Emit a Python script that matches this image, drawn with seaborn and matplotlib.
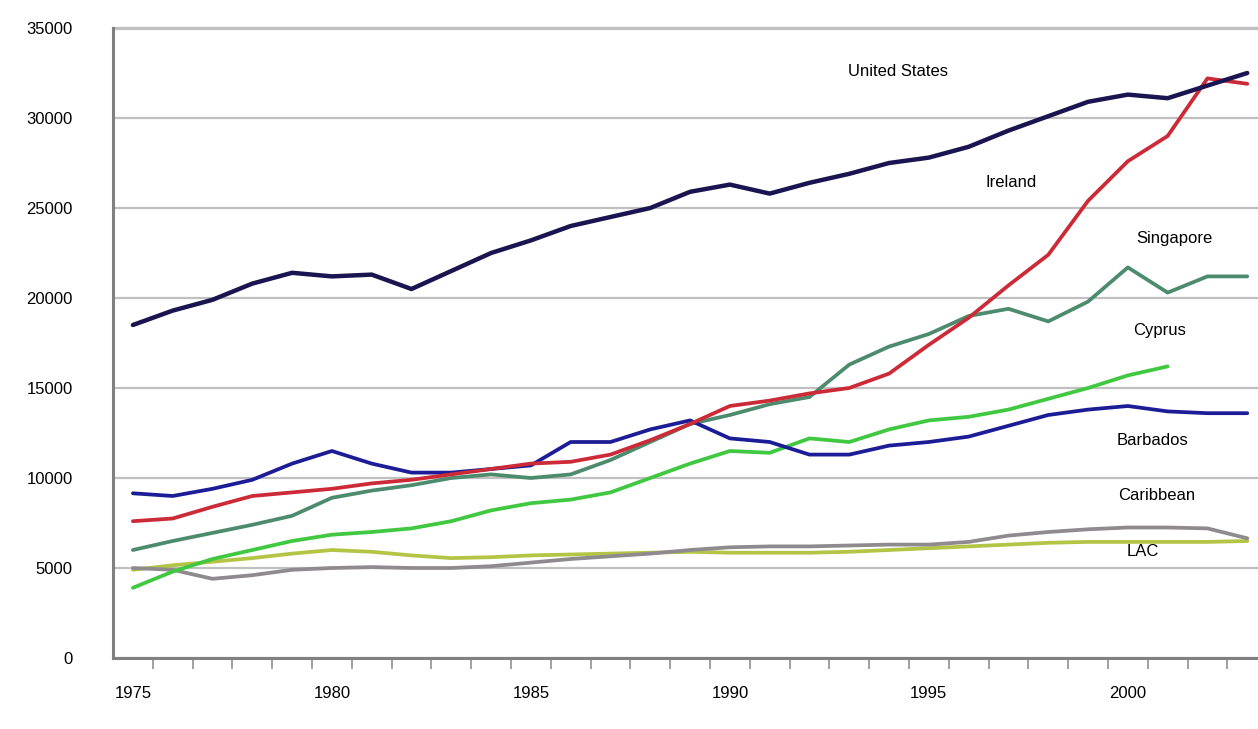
import numpy as np
import pandas as pd
import matplotlib
matplotlib.use("Agg")
import matplotlib.pyplot as plt
import seaborn as sns

# GDP per capita, 1975-2003
years = list(range(1975, 2004))

united_states = [18500, 19300, 19900, 20800, 21400, 21200, 21300, 20500, 21500, 22500,
                 23200, 24000, 24500, 25000, 25900, 26300, 25800, 26400, 26900, 27500,
                 27800, 28400, 29300, 30100, 30900, 31300, 31100, 31800, 32500]
ireland = [7600, 7750, 8400, 9000, 9200, 9400, 9700, 9900, 10200, 10500,
           10800, 10900, 11300, 12100, 13000, 14000, 14300, 14700, 15000, 15800,
           17400, 18900, 20700, 22400, 25400, 27600, 29000, 32200, 31900]
singapore = [6000, 6500, 6950, 7400, 7900, 8900, 9300, 9600, 10000, 10200,
             10000, 10200, 11000, 12000, 13000, 13500, 14100, 14500, 16300, 17300,
             18000, 19000, 19400, 18700, 19800, 21700, 20300, 21200, 21200]
cyprus = [3900, 4800, 5500, 6000, 6500, 6850, 7000, 7200, 7600, 8200,
          8600, 8800, 9200, 10000, 10800, 11500, 11400, 12200, 12000, 12700,
          13200, 13400, 13800, 14400, 15000, 15700, 16200, np.nan, np.nan]
barbados = [9150, 9000, 9400, 9900, 10800, 11500, 10800, 10300, 10300, 10500,
            10700, 12000, 12000, 12700, 13200, 12200, 12000, 11300, 11300, 11800,
            12000, 12300, 12900, 13500, 13800, 14000, 13700, 13600, 13600]
caribbean = [5000, 4900, 4400, 4600, 4900, 5000, 5050, 5000, 5000, 5100,
             5300, 5500, 5650, 5800, 6000, 6150, 6200, 6200, 6250, 6300,
             6300, 6450, 6800, 7000, 7150, 7250, 7250, 7200, 6650]
lac = [4900, 5150, 5350, 5550, 5800, 6000, 5900, 5700, 5550, 5600,
       5700, 5750, 5800, 5850, 5900, 5850, 5850, 5850, 5900, 6000,
       6100, 6200, 6300, 6400, 6450, 6450, 6450, 6450, 6500]

series_names = ["United States", "Ireland", "Singapore", "Cyprus",
                "Barbados", "Caribbean", "LAC"]
series_vals = [united_states, ireland, singapore, cyprus, barbados, caribbean, lac]
colors = ["#1a1450", "#cc2a36", "#4d8b6e", "#40c840", "#1c1c96", "#8e8a8e", "#b4c444"]

df = pd.concat([pd.DataFrame({"Year": years, "GDP": v, "Country": n})
                for n, v in zip(series_names, series_vals)], ignore_index=True)

sns.set_theme(style="white")
plt.rcParams["font.family"] = ["Liberation Sans", "DejaVu Sans"]

fig = plt.figure(figsize=(12.58, 7.29), dpi=100)
ax = fig.add_axes([113 / 1258, 71 / 729, (1258 - 113) / 1258, 630 / 729])

# draw order: bottom series first so the top ones sit over them
order = ["LAC", "Caribbean", "Cyprus", "Singapore", "Barbados", "Ireland", "United States"]
lw = {"United States": 3.2}
for name in order:
    sub = df[df["Country"] == name].dropna()
    sns.lineplot(data=sub, x="Year", y="GDP", ax=ax, color=colors[series_names.index(name)],
                 linewidth=lw.get(name, 2.7), zorder=3, legend=False)

ax.set_xlim(1974.5, 2003.27)
ax.set_ylim(0, 35000)
ax.set_xlabel("")
ax.set_ylabel("")

# y axis: grey gridlines every 5000
ax.set_yticks(range(0, 35001, 5000))
ax.set_yticklabels([str(v) for v in range(0, 35001, 5000)])
ax.yaxis.grid(True, color="#c0c0c0", linewidth=1.6, zorder=0)
ax.set_axisbelow(True)
ax.tick_params(axis="y", direction="out", length=7, width=1.2, color="#c0c0c0",
               pad=22, labelsize=12, labelcolor="black")

# x axis: tick marks between years, labels every 5 years
ax.set_xticks(range(1975, 2001, 5))
ax.set_xticklabels([str(y) for y in range(1975, 2001, 5)])
ax.set_xticks(np.arange(1975.5, 2003.5, 1), minor=True)
ax.tick_params(axis="x", which="major", length=0, pad=20, labelsize=12, labelcolor="black")
ax.tick_params(axis="x", which="minor", direction="out", length=8, width=1.2,
               color="#909090", bottom=True)

for side in ["top", "right"]:
    ax.spines[side].set_visible(False)
ax.spines["left"].set_color("#808080")
ax.spines["left"].set_linewidth(2.2)
ax.spines["bottom"].set_color("#808080")
ax.spines["bottom"].set_linewidth(2.2)
ax.axhline(35000, color="#c0c0c0", linewidth=2.4, zorder=1, clip_on=False)

# series labels
labels = [("United States", 1994.22, 32556), ("Ireland", 1997.06, 26389),
          ("Singapore", 2001.16, 23333), ("Cyprus", 2000.80, 18222),
          ("Barbados", 2000.63, 12056), ("Caribbean", 2000.73, 9000)]
for txt, x, y in labels:
    ax.text(x, y, txt, ha="center", va="center", fontsize=12, color="black", zorder=4)
ax.text(2000.38, 5889, "LAC", ha="center", va="center", fontsize=12, color="black",
        zorder=2, bbox=dict(facecolor="white", edgecolor="none", pad=4))

fig.savefig("out.png", dpi=100)
